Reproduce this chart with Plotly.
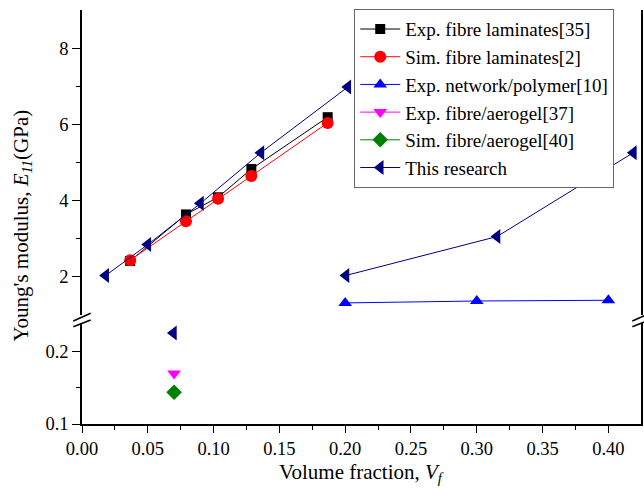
import plotly.graph_objects as go

# ---------------- data ----------------
lam_x = [0.0366, 0.079, 0.1034, 0.1287, 0.1867]
exp_lam_y = [2.42, 3.64, 4.09, 4.83, 6.19]
sim_lam_y = [2.44, 3.46, 4.05, 4.65, 6.04]

net_x = [0.20, 0.30, 0.40]
net_y = [1.32, 1.37, 1.39]

aero_x = [0.07]
exp_aero_y = [0.170]
sim_aero_y = [0.144]

res_low_x = [0.0695]
res_low_y = [0.226]
res_a_x = [0.018, 0.050, 0.090, 0.136, 0.202]
res_a_y = [2.04, 2.85, 3.93, 5.26, 6.98]
res_b_x = [0.2006, 0.3154, 0.419]
res_b_y = [2.04, 3.06, 5.26]

x_ticks = [0.00, 0.05, 0.10, 0.15, 0.20, 0.25, 0.30, 0.35, 0.40]
y_up_ticks = [2, 4, 6, 8]
y_up_minor = [3, 5, 7]
y_low_ticks = [0.1, 0.2]
y_low_minor = [0.15]

FONT = "Times New Roman, Liberation Serif, serif"
NAVY = "#000080"

fig = go.Figure()

def add(x, y, name, color, symbol, size, yaxis="y2", showlegend=True, group=None, lw=1):
    fig.add_trace(go.Scatter(
        x=x, y=y, name=name, mode="lines+markers", yaxis=yaxis,
        line=dict(color=color, width=lw),
        marker=dict(color=color, symbol=symbol, size=size),
        showlegend=showlegend, legendgroup=group or name))

add(lam_x, exp_lam_y, "Exp. fibre laminates[35]", "black", "square", 10)
add(lam_x, sim_lam_y, "Sim. fibre laminates[2]", "red", "circle", 12)
add(net_x, net_y, "Exp. network/polymer[10]", "blue", "triangle-up", 12)
add(aero_x, exp_aero_y, "Exp. fibre/aerogel[37]", "magenta", "triangle-down", 12, yaxis="y")
add(aero_x, sim_aero_y, "Sim. fibre/aerogel[40]", "green", "diamond", 12, yaxis="y")
add(res_low_x, res_low_y, "This research", NAVY, "triangle-left", 13, yaxis="y", group="res")
add(res_a_x + [None] + res_b_x, res_a_y + [None] + res_b_y, "This research", NAVY,
    "triangle-left", 13, yaxis="y2", showlegend=False, group="res")

axis_common = dict(showline=True, linecolor="black", linewidth=1.6, showgrid=False,
                   zeroline=False, ticks="outside", tickcolor="black", tickwidth=1.4,
                   tickfont=dict(family=FONT, size=18.5, color="black"))

fig.update_layout(
    width=644, height=498,
    margin=dict(l=82, r=1, t=10, b=74),
    paper_bgcolor="white", plot_bgcolor="white",
    font=dict(family=FONT, size=18, color="black"),
    xaxis=dict(range=[0, 0.4248], anchor="y", tickvals=x_ticks, tickformat=".2f",
               ticklen=7,
               minor=dict(dtick=0.025, tick0=0, ticks="outside", ticklen=4,
                          tickcolor="black", tickwidth=1.4),
               **axis_common),
    xaxis2=dict(range=[0, 0.4248], anchor="y2", side="top", overlaying="x",
                showline=True, linecolor="black", linewidth=1.6, showgrid=False,
                zeroline=False, ticks="", showticklabels=False),
    yaxis=dict(range=[0.1, 0.24], domain=[0, 0.244], anchor="x", mirror=True,
               tickmode="array", tickvals=y_low_ticks, ticktext=["0.1", "0.2"], ticklen=8,
               minor=dict(tickmode="array", tickvals=y_low_minor, ticks="outside",
                          ticklen=4, tickcolor="black", tickwidth=1.4),
               **axis_common),
    yaxis2=dict(range=[1, 9], domain=[0.263, 1], anchor="x", mirror=True,
                tickmode="array", tickvals=y_up_ticks, ticklen=8,
                minor=dict(tickmode="array", tickvals=y_up_minor, ticks="outside",
                           ticklen=4, tickcolor="black", tickwidth=1.4),
                **axis_common),
    legend=dict(x=0.487, y=1.002, xanchor="left", yanchor="top",
                bgcolor="white", bordercolor="#666666", borderwidth=1,
                font=dict(family=FONT, size=19, color="black"),
                tracegroupgap=0, itemwidth=40),
    showlegend=True,
)

# axis titles
fig.add_annotation(text="Young's modulus, <i>E</i><sub><i>11</i></sub>(GPa)",
                   xref="paper", yref="paper", x=-0.107, y=0.48, textangle=-90,
                   showarrow=False, xanchor="center", yanchor="middle",
                   font=dict(family=FONT, size=21, color="black"))
fig.add_annotation(text="Volume fraction, <i>V</i><sub><i>f</i></sub>",
                   xref="paper", yref="paper", x=0.5, y=-0.118,
                   showarrow=False, xanchor="center", yanchor="middle",
                   font=dict(family=FONT, size=21, color="black"))

# axis-break marks (decoration)
for xc in (0.0, 1.0):
    for (ya, yb) in ((0.2488, 0.2674), (0.235, 0.2512)):
        fig.add_shape(type="line", xref="paper", yref="paper",
                      x0=xc - 0.0155, y0=ya, x1=xc + 0.0155, y1=yb,
                      line=dict(color="black", width=1.6))

fig.write_html("out.html")
